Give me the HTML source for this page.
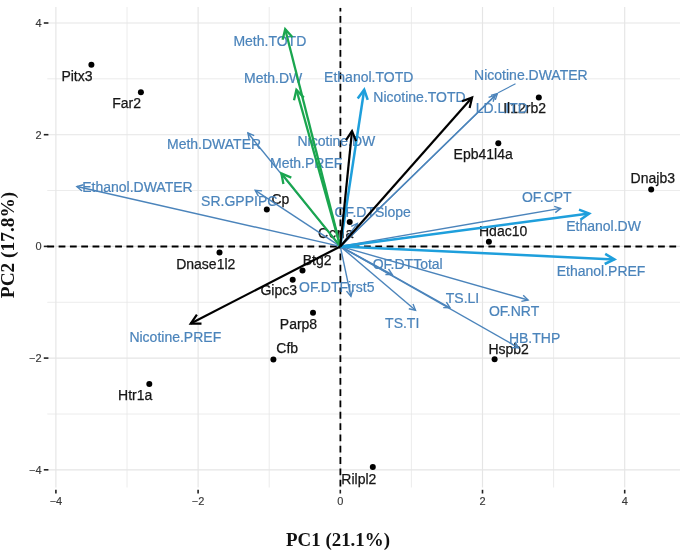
<!DOCTYPE html>
<html><head><meta charset="utf-8"><title>PCA biplot</title>
<style>
html,body{margin:0;padding:0;background:#fff;}
body{width:683px;height:550px;overflow:hidden;}
svg{display:block;filter:blur(0.5px);}
text{font-family:"Liberation Sans",sans-serif;}
.g{font-size:14px;fill:#161616;stroke:#161616;stroke-width:0.25px;}
.t{font-size:14px;fill:#4b84bb;stroke:#4b84bb;stroke-width:0.2px;}
.tk{font-size:11px;fill:#383838;stroke:#383838;stroke-width:0.15px;}
.ax{font-family:"Liberation Serif",serif;font-weight:bold;fill:#111;}
</style></head><body>
<svg width="683" height="550" viewBox="0 0 683 550">
<rect width="683" height="550" fill="#fff"/>
<g stroke="#e5e5e5" fill="none"><path d="M55.9 7V487.5" stroke-width="1.15"/><path d="M127.0 7V487.5" stroke-width="0.75"/><path d="M198.1 7V487.5" stroke-width="1.15"/><path d="M269.2 7V487.5" stroke-width="0.75"/><path d="M340.3 7V487.5" stroke-width="1.15"/><path d="M411.4 7V487.5" stroke-width="0.75"/><path d="M482.5 7V487.5" stroke-width="1.15"/><path d="M553.6 7V487.5" stroke-width="0.75"/><path d="M624.7 7V487.5" stroke-width="1.15"/><path d="M47.3 469.8H680" stroke-width="1.15"/><path d="M47.3 414.0H680" stroke-width="0.75"/><path d="M47.3 358.1H680" stroke-width="1.15"/><path d="M47.3 302.3H680" stroke-width="0.75"/><path d="M47.3 246.4H680" stroke-width="1.15"/><path d="M47.3 190.5H680" stroke-width="0.75"/><path d="M47.3 134.7H680" stroke-width="1.15"/><path d="M47.3 78.8H680" stroke-width="0.75"/><path d="M47.3 23.0H680" stroke-width="1.15"/></g>
<g stroke="#222" stroke-width="1.6" fill="none"><path d="M43.8 469.8H48.4"/><path d="M43.8 358.1H48.4"/><path d="M43.8 246.4H48.4"/><path d="M43.8 134.7H48.4"/><path d="M43.8 23.0H48.4"/><path d="M55.9 489.8V493.5"/><path d="M198.1 489.8V493.5"/><path d="M340.3 489.8V493.5"/><path d="M482.5 489.8V493.5"/><path d="M624.7 489.8V493.5"/></g>
<text class="tk" x="41.5" y="473.8" text-anchor="end">−4</text>
<text class="tk" x="41.5" y="362.1" text-anchor="end">−2</text>
<text class="tk" x="41.5" y="250.4" text-anchor="end">0</text>
<text class="tk" x="41.5" y="138.7" text-anchor="end">2</text>
<text class="tk" x="41.5" y="27.0" text-anchor="end">4</text>
<text class="tk" x="55.9" y="504.8" text-anchor="middle">−4</text>
<text class="tk" x="198.1" y="504.8" text-anchor="middle">−2</text>
<text class="tk" x="340.3" y="504.8" text-anchor="middle">0</text>
<text class="tk" x="482.5" y="504.8" text-anchor="middle">2</text>
<text class="tk" x="624.7" y="504.8" text-anchor="middle">4</text>
<g stroke="#000" stroke-width="1.8" fill="none"><path stroke-dasharray="6.8 4.51" d="M47.3 246.5H680.5"/><path stroke-dasharray="6.8 4.51" d="M340.40000000000003 486.5V7.9"/></g>
<g fill="#000"><circle cx="91.4" cy="64.7" r="3"/><circle cx="140.9" cy="92.2" r="3"/><circle cx="266.8" cy="209.6" r="3"/><circle cx="219.5" cy="252.4" r="3"/><circle cx="302.5" cy="270.6" r="3"/><circle cx="292.7" cy="279.7" r="3"/><circle cx="313" cy="312.7" r="3"/><circle cx="273.4" cy="359.5" r="3"/><circle cx="149.3" cy="383.9" r="3"/><circle cx="372.8" cy="467" r="3"/><circle cx="494.6" cy="359.2" r="3"/><circle cx="488.9" cy="241.8" r="3"/><circle cx="498.3" cy="143.2" r="3"/><circle cx="538.8" cy="97.5" r="3"/><circle cx="651.2" cy="189.5" r="3"/><circle cx="349.7" cy="222" r="3"/></g>
<text class="g" x="61.4" y="80.5">Pitx3</text>
<text class="g" x="112.2" y="108.3">Far2</text>
<text class="g" x="271.4" y="204.2">Cp</text>
<text class="g" x="176.2" y="268.8">Dnase1l2</text>
<text class="g" x="302.7" y="265.3">Btg2</text>
<text class="g" x="260.4" y="295.2">Gipc3</text>
<text class="g" x="279.8" y="328.5">Parp8</text>
<text class="g" x="276.3" y="353.1">Cfb</text>
<text class="g" x="118.1" y="399.5">Htr1a</text>
<text class="g" x="341.3" y="483.9">Rilpl2</text>
<text class="g" x="488.4" y="354.2">Hspb2</text>
<text class="g" x="479.0" y="236">Hdac10</text>
<text class="g" x="453.6" y="159.4">Epb41l4a</text>
<text class="g" x="503.2" y="113.2">Il12rb2</text>
<text class="g" x="630.6" y="182.9">Dnajb3</text>
<text class="g" x="317.9" y="237.8" textLength="35.3" lengthAdjust="spacing">Ccna</text>
<g stroke="#4b84bb" stroke-width="1.4" fill="none" stroke-linejoin="miter" stroke-linecap="butt"><path d="M340.3 246.4L76.9 186.5" /><path d="M83.4 184.8L76.9 186.5L82.0 191.0" /></g>
<g stroke="#4b84bb" stroke-width="1.4" fill="none" stroke-linejoin="miter" stroke-linecap="butt"><path d="M340.3 246.4L247.9 133.0" /><path d="M254.2 135.7L247.9 133.0L249.2 139.7" /></g>
<g stroke="#4b84bb" stroke-width="1.4" fill="none" stroke-linejoin="miter" stroke-linecap="butt"><path d="M340.3 246.4L255.2 190.3" /><path d="M262.0 190.9L255.2 190.3L258.5 196.3" /></g>
<g stroke="#4b84bb" stroke-width="1.4" fill="none" stroke-linejoin="miter" stroke-linecap="butt"><path d="M340.3 246.4L357.4 223.4" /><path d="M356.3 230.1L357.4 223.4L351.2 226.3" /></g>
<g stroke="#4b84bb" stroke-width="1.4" fill="none" stroke-linejoin="miter" stroke-linecap="butt"><path d="M340.3 246.4L497.4 93.5" /><path d="M495.3 99.9L497.4 93.5L490.9 95.4" /></g>
<g stroke="#4b84bb" stroke-width="1.4" fill="none" stroke-linejoin="miter" stroke-linecap="butt"><path d="M340.3 246.4L495.1 95.4" /><path d="M493.1 101.8L495.1 95.4L488.6 97.3" /></g>
<g stroke="#4b84bb" stroke-width="1.4" fill="none" stroke-linejoin="miter" stroke-linecap="butt"><path d="M340.3 246.4L560.6 208.4" /><path d="M555.3 212.6L560.6 208.4L554.2 206.3" /></g>
<g stroke="#4b84bb" stroke-width="1.4" fill="none" stroke-linejoin="miter" stroke-linecap="butt"><path d="M340.3 246.4L392.2 274.6" /><path d="M385.4 274.5L392.2 274.6L388.5 268.9" /></g>
<g stroke="#4b84bb" stroke-width="1.4" fill="none" stroke-linejoin="miter" stroke-linecap="butt"><path d="M340.3 246.4L350.9 296.3" /><path d="M346.5 291.1L350.9 296.3L352.8 289.8" /></g>
<g stroke="#4b84bb" stroke-width="1.4" fill="none" stroke-linejoin="miter" stroke-linecap="butt"><path d="M340.3 246.4L415.5 310.3" /><path d="M408.8 308.8L415.5 310.3L413.0 304.0" /></g>
<g stroke="#4b84bb" stroke-width="1.4" fill="none" stroke-linejoin="miter" stroke-linecap="butt"><path d="M340.3 246.4L450.0 307.8" /><path d="M443.2 307.6L450.0 307.8L446.4 302.1" /></g>
<g stroke="#4b84bb" stroke-width="1.4" fill="none" stroke-linejoin="miter" stroke-linecap="butt"><path d="M340.3 246.4L528.1 300.0" /><path d="M521.4 301.4L528.1 300.0L523.2 295.3" /></g>
<g stroke="#4b84bb" stroke-width="1.4" fill="none" stroke-linejoin="miter" stroke-linecap="butt"><path d="M340.3 246.4L518.6 347.8" /><path d="M511.8 347.6L518.6 347.8L514.9 342.0" /></g>
<path d="M498.2 92.7L515.5 83.7" stroke="#4b84bb" stroke-width="1.1" fill="none"/>
<text class="t" x="233.4" y="45.7">Meth.TOTD</text>
<text class="t" x="244.0" y="83">Meth.DW</text>
<text class="t" x="324.1" y="81.6">Ethanol.TOTD</text>
<text class="t" x="373.3" y="102">Nicotine.TOTD</text>
<text class="t" x="474.1" y="80.4">Nicotine.DWATER</text>
<text class="t" x="475.7" y="113.2">LD.LITD</text>
<text class="t" x="167.0" y="148.6">Meth.DWATER</text>
<text class="t" x="297.5" y="146.4">Nicotine.DW</text>
<text class="t" x="270.0" y="168.4">Meth.PREF</text>
<text class="t" x="82.2" y="191.6">Ethanol.DWATER</text>
<text class="t" x="201.1" y="206">SR.GPPIPC</text>
<text class="t" x="334.5" y="217.2">OF.DTSlope</text>
<text class="t" x="521.9" y="202.3">OF.CPT</text>
<text class="t" x="566.2" y="230.6">Ethanol.DW</text>
<text class="t" x="556.7" y="276.4">Ethanol.PREF</text>
<text class="t" x="372.7" y="269.3">OF.DTTotal</text>
<text class="t" x="299.1" y="291.6">OF.DTFirst5</text>
<text class="t" x="385.1" y="327.8">TS.TI</text>
<text class="t" x="445.8" y="303.2">TS.LI</text>
<text class="t" x="488.9" y="315.5">OF.NRT</text>
<text class="t" x="508.9" y="343.1">HB.THP</text>
<text class="t" x="129.4" y="341.6">Nicotine.PREF</text>
<g stroke="#1e9fdc" stroke-width="2.5" fill="none" stroke-linejoin="miter" stroke-linecap="butt"><path d="M340.3 246.4L364.2 89.7" /><path d="M367.7 99.9L364.2 89.7L357.7 98.4" /></g>
<g stroke="#1e9fdc" stroke-width="2.5" fill="none" stroke-linejoin="miter" stroke-linecap="butt"><path d="M340.3 246.4L589.2 213.5" /><path d="M580.4 219.8L589.2 213.5L579.0 209.7" /></g>
<g stroke="#1e9fdc" stroke-width="2.5" fill="none" stroke-linejoin="miter" stroke-linecap="butt"><path d="M340.3 246.4L614.4 259.4" /><path d="M604.7 264.0L614.4 259.4L605.2 253.9" /></g>
<g stroke="#1aa64f" stroke-width="2.3" fill="none" stroke-linejoin="miter" stroke-linecap="butt"><path d="M340.3 246.4L285.2 29.2" /><path d="M292.5 37.2L285.2 29.2L282.6 39.7" /></g>
<g stroke="#1aa64f" stroke-width="2.3" fill="none" stroke-linejoin="miter" stroke-linecap="butt"><path d="M340.3 246.4L296.4 89.8" /><path d="M303.8 97.6L296.4 89.8L294.0 100.3" /></g>
<g stroke="#1aa64f" stroke-width="2.3" fill="none" stroke-linejoin="miter" stroke-linecap="butt"><path d="M340.3 246.4L281.4 173.4" /><path d="M291.3 177.6L281.4 173.4L283.4 184.0" /></g>
<g stroke="#000" stroke-width="2.2" fill="none" stroke-linejoin="miter" stroke-linecap="butt"><path d="M340.3 246.4L352.0 131.1" /><path d="M356.1 141.1L352.0 131.1L346.0 140.1" /></g>
<g stroke="#000" stroke-width="2.2" fill="none" stroke-linejoin="miter" stroke-linecap="butt"><path d="M340.3 246.4L472.1 97.6" /><path d="M469.6 108.1L472.1 97.6L462.0 101.3" /></g>
<g stroke="#000" stroke-width="2.2" fill="none" stroke-linejoin="miter" stroke-linecap="butt"><path d="M340.3 246.4L190.7 323.6" /><path d="M196.9 314.7L190.7 323.6L201.5 323.7" /></g>
<text class="ax" font-size="18.5" x="338" y="545.7" text-anchor="middle" textLength="104" lengthAdjust="spacingAndGlyphs">PC1 (21.1%)</text>
<text class="ax" font-size="18" transform="translate(13.7 245) rotate(-90)" text-anchor="middle" textLength="106.4" lengthAdjust="spacingAndGlyphs">PC2 (17.8%)</text>
</svg></body></html>
